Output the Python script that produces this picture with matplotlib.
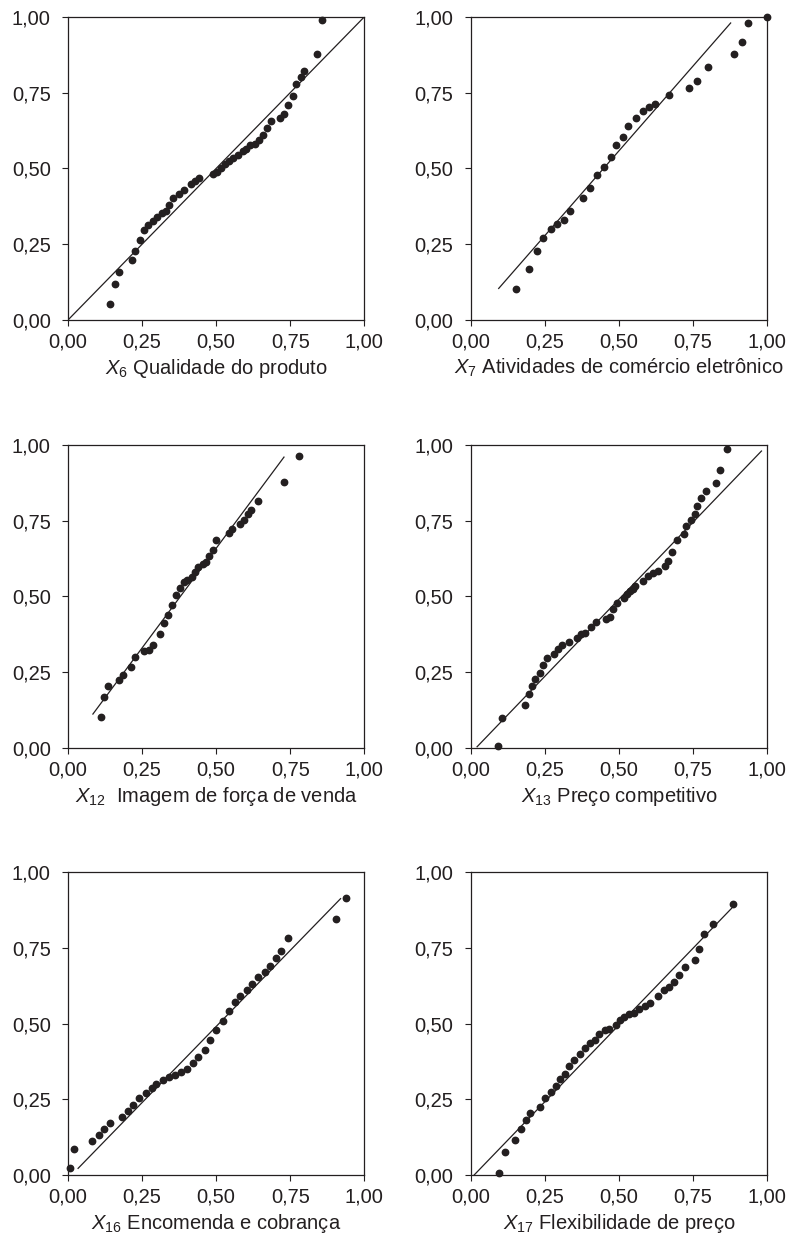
#!/usr/bin/env python3

import matplotlib
matplotlib.use('Agg')
import matplotlib.pyplot as plt

#################################################
### Data
#################################################

x6_obs = [0.141, 0.158, 0.173, 0.215, 0.227, 0.242, 0.258, 0.271, 0.286, 0.300,
          0.316, 0.330, 0.342, 0.356, 0.373, 0.390, 0.414, 0.429, 0.443, 0.488,
          0.502, 0.517, 0.530, 0.544, 0.557, 0.573, 0.589, 0.601, 0.614, 0.631,
          0.645, 0.659, 0.672, 0.686, 0.714, 0.730, 0.743, 0.759, 0.771, 0.786,
          0.798, 0.839, 0.856]
x6_exp = [0.052, 0.119, 0.159, 0.198, 0.229, 0.264, 0.297, 0.312, 0.325, 0.339,
          0.354, 0.360, 0.381, 0.404, 0.417, 0.430, 0.449, 0.459, 0.470, 0.482,
          0.488, 0.502, 0.515, 0.523, 0.533, 0.545, 0.556, 0.564, 0.576, 0.580,
          0.595, 0.610, 0.635, 0.657, 0.665, 0.681, 0.711, 0.740, 0.780, 0.801,
          0.823, 0.878, 0.989]
x6_line = [0.0, 1.0]

x7_obs = [0.153, 0.198, 0.223, 0.244, 0.270, 0.291, 0.313, 0.335, 0.378, 0.403,
          0.426, 0.449, 0.472, 0.491, 0.512, 0.531, 0.559, 0.581, 0.602, 0.623,
          0.669, 0.738, 0.762, 0.800, 0.889, 0.916, 0.934, 1.000]
x7_exp = [0.103, 0.169, 0.228, 0.269, 0.299, 0.318, 0.329, 0.358, 0.401, 0.434,
          0.478, 0.506, 0.538, 0.576, 0.603, 0.641, 0.666, 0.688, 0.704, 0.714,
          0.741, 0.766, 0.790, 0.836, 0.877, 0.918, 0.980, 1.000]
x7_line = [0.094, 0.877]
x7_line_y = [0.104, 0.980]

x12_obs = [0.111, 0.122, 0.134, 0.171, 0.186, 0.213, 0.226, 0.255, 0.275, 0.288,
           0.310, 0.325, 0.338, 0.351, 0.364, 0.377, 0.390, 0.403, 0.417, 0.429,
           0.440, 0.454, 0.467, 0.477, 0.491, 0.501, 0.542, 0.555, 0.580, 0.595,
           0.607, 0.618, 0.640, 0.729, 0.778]
x12_exp = [0.103, 0.167, 0.205, 0.226, 0.242, 0.267, 0.299, 0.319, 0.324, 0.339,
           0.376, 0.414, 0.440, 0.473, 0.506, 0.528, 0.547, 0.553, 0.563, 0.581,
           0.598, 0.608, 0.615, 0.633, 0.654, 0.685, 0.711, 0.724, 0.738, 0.754,
           0.772, 0.787, 0.816, 0.878, 0.962]
x12_line = [0.084, 0.729]
x12_line_y = [0.112, 0.960]

x13_obs = [0.093, 0.105, 0.183, 0.196, 0.206, 0.218, 0.232, 0.245, 0.258, 0.282,
           0.294, 0.307, 0.331, 0.359, 0.372, 0.387, 0.406, 0.421, 0.457, 0.471,
           0.481, 0.494, 0.517, 0.528, 0.538, 0.546, 0.555, 0.581, 0.599, 0.616,
           0.632, 0.656, 0.666, 0.679, 0.695, 0.719, 0.727, 0.742, 0.755, 0.765,
           0.778, 0.793, 0.828, 0.842, 0.864]
x13_exp = [0.007, 0.098, 0.143, 0.177, 0.205, 0.228, 0.246, 0.275, 0.296, 0.311,
           0.327, 0.341, 0.349, 0.363, 0.375, 0.380, 0.398, 0.417, 0.427, 0.433,
           0.460, 0.480, 0.496, 0.509, 0.518, 0.525, 0.535, 0.552, 0.568, 0.579,
           0.583, 0.599, 0.616, 0.646, 0.686, 0.707, 0.733, 0.751, 0.772, 0.798,
           0.826, 0.849, 0.876, 0.916, 0.986]
x13_line = [0.021, 0.981]
x13_line_y = [0.004, 0.980]

x16_obs = [0.006, 0.020, 0.081, 0.103, 0.122, 0.141, 0.182, 0.202, 0.220, 0.239,
           0.262, 0.282, 0.298, 0.322, 0.342, 0.362, 0.381, 0.401, 0.421, 0.439,
           0.464, 0.480, 0.500, 0.524, 0.542, 0.564, 0.581, 0.603, 0.622, 0.642,
           0.664, 0.683, 0.702, 0.720, 0.743, 0.903, 0.940]
x16_exp = [0.024, 0.086, 0.113, 0.131, 0.152, 0.173, 0.193, 0.210, 0.231, 0.254,
           0.272, 0.287, 0.299, 0.312, 0.323, 0.331, 0.339, 0.349, 0.370, 0.388,
           0.413, 0.444, 0.478, 0.508, 0.540, 0.571, 0.591, 0.611, 0.632, 0.654,
           0.671, 0.691, 0.715, 0.738, 0.783, 0.846, 0.915]
x16_line = [0.034, 0.920]
x16_line_y = [0.022, 0.912]

x17_obs = [0.096, 0.115, 0.150, 0.169, 0.185, 0.200, 0.234, 0.250, 0.270, 0.287,
           0.301, 0.318, 0.332, 0.349, 0.369, 0.384, 0.402, 0.418, 0.434, 0.452,
           0.468, 0.489, 0.503, 0.518, 0.533, 0.552, 0.568, 0.587, 0.604, 0.633,
           0.651, 0.669, 0.685, 0.701, 0.722, 0.755, 0.769, 0.786, 0.816, 0.885]
x17_exp = [0.006, 0.075, 0.117, 0.151, 0.183, 0.205, 0.224, 0.254, 0.274, 0.295,
           0.317, 0.334, 0.360, 0.380, 0.399, 0.418, 0.437, 0.447, 0.467, 0.478,
           0.482, 0.496, 0.513, 0.523, 0.533, 0.534, 0.547, 0.558, 0.568, 0.592,
           0.612, 0.620, 0.637, 0.660, 0.688, 0.710, 0.745, 0.797, 0.827, 0.895]
x17_line = [0.011, 0.880]
x17_line_y = [0.000, 0.880]

labels = [r'$X_{6}$ Qualidade do produto',
          r'$X_{7}$ Atividades de comércio eletrônico',
          r'$X_{12}$  Imagem de força de venda',
          r'$X_{13}$ Preço competitivo',
          r'$X_{16}$ Encomenda e cobrança',
          r'$X_{17}$ Flexibilidade de preço']

tick_values = [0.0, 0.25, 0.5, 0.75, 1.0]
tick_labels = ['0,00', '0,25', '0,50', '0,75', '1,00']

#################################################
### Plotting
#################################################

plt.rcParams['font.family'] = ['Liberation Sans', 'DejaVu Sans']
plt.rcParams['mathtext.fontset'] = 'custom'
plt.rcParams['mathtext.rm'] = 'Liberation Sans'
plt.rcParams['mathtext.it'] = 'Liberation Sans:italic'

ink = '#231f20'
font_size = 14.5

panels = [
    (x6_obs, x6_exp, x6_line, x6_line),
    (x7_obs, x7_exp, x7_line, x7_line_y),
    (x12_obs, x12_exp, x12_line, x12_line_y),
    (x13_obs, x13_exp, x13_line, x13_line_y),
    (x16_obs, x16_exp, x16_line, x16_line_y),
    (x17_obs, x17_exp, x17_line, x17_line_y),
]

fig = plt.figure(figsize=(7.9, 12.45), dpi=100)

lefts = [0.0861, 0.596]
bottoms = [0.743, 0.3992, 0.0562]
width = 0.375
height = 0.2434

for k, (obs, exp, lx, ly) in enumerate(panels):
    ax = fig.add_axes([lefts[k % 2], bottoms[k // 2], width, height])

    ax.plot(lx, ly, color=ink, linewidth=0.9)
    ax.plot(obs, exp, 'o', color=ink, markersize=4.6, clip_on=False)

    ax.set_xlim(0, 1)
    ax.set_ylim(0, 1)
    ax.set_xticks(tick_values)
    ax.set_yticks(tick_values)
    ax.set_xticklabels(tick_labels, fontsize=font_size)
    ax.set_yticklabels(tick_labels, fontsize=font_size)
    ax.tick_params(axis='x', direction='out', length=4.5, width=0.8, color=ink, pad=4.5, labelcolor=ink)
    ax.tick_params(axis='y', direction='out', length=4.5, width=0.8, color=ink, pad=8, labelcolor=ink)

    for spine in ax.spines.values():
        spine.set_color(ink)
        spine.set_linewidth(0.9)

    ax.set_xlabel(labels[k], fontsize=font_size, color=ink, labelpad=4)

fig.savefig('out.png', dpi=100)
